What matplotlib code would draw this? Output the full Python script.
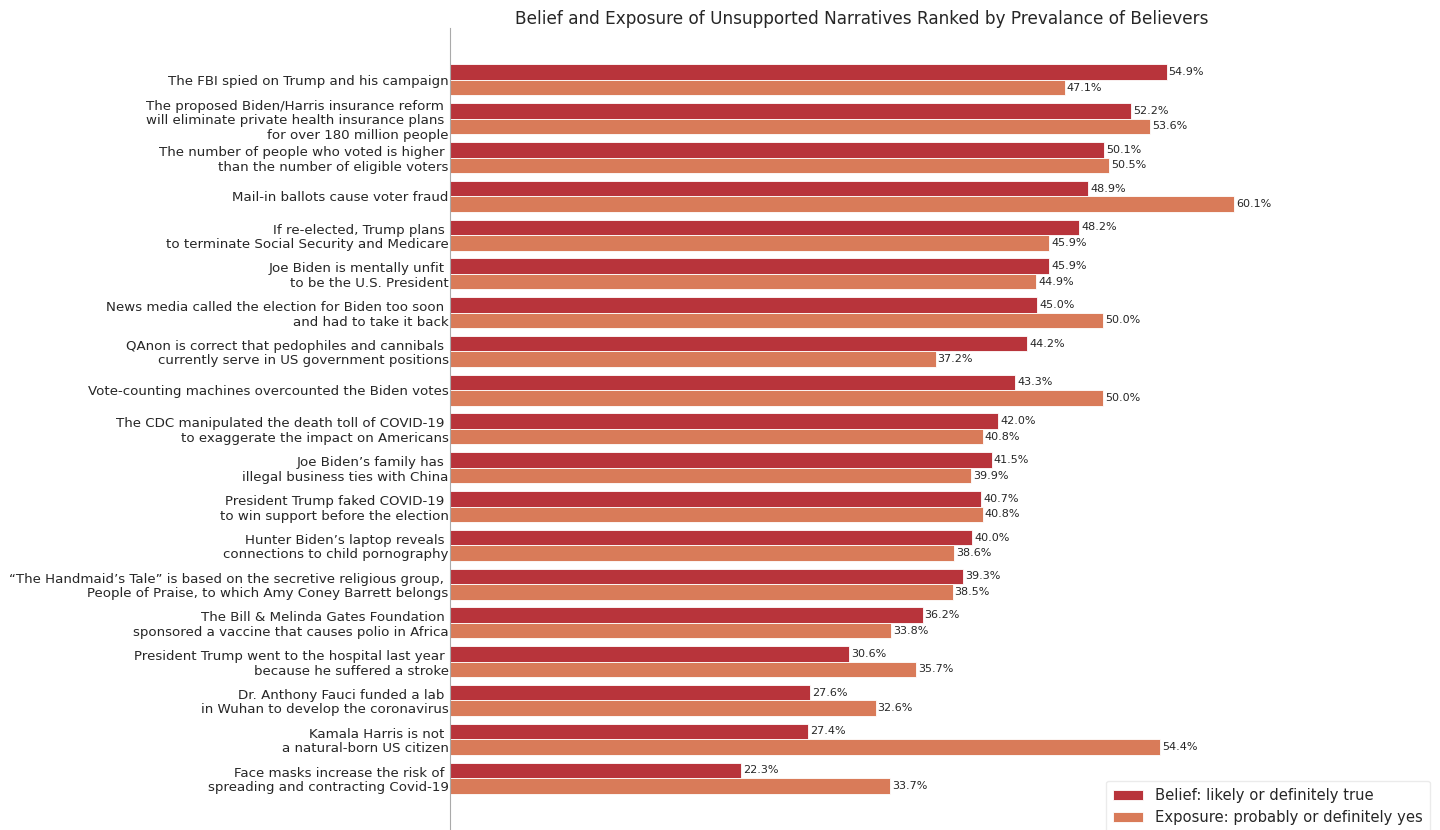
import matplotlib
matplotlib.use('Agg')
import matplotlib.pyplot as plt
import numpy as np

# Narrativas, da mais acreditada para a menos
narratives = [
    'The FBI spied on Trump and his campaign',
    'The proposed Biden/Harris insurance reform \nwill eliminate private health insurance plans \nfor over 180 million people',
    'The number of people who voted is higher \nthan the number of eligible voters',
    'Mail-in ballots cause voter fraud',
    'If re-elected, Trump plans \nto terminate Social Security and Medicare',
    'Joe Biden is mentally unfit \nto be the U.S. President',
    'News media called the election for Biden too soon \nand had to take it back',
    'QAnon is correct that pedophiles and cannibals \ncurrently serve in US government positions',
    'Vote-counting machines overcounted the Biden votes',
    'The CDC manipulated the death toll of COVID-19 \nto exaggerate the impact on Americans',
    'Joe Biden\u2019s family has \nillegal business ties with China',
    'President Trump faked COVID-19 \nto win support before the election',
    'Hunter Biden\u2019s laptop reveals \nconnections to child pornography',
    '\u201cThe Handmaid\u2019s Tale\u201d is based on the secretive religious group, \nPeople of Praise, to which Amy Coney Barrett belongs',
    'The Bill & Melinda Gates Foundation \nsponsored a vaccine that causes polio in Africa',
    'President Trump went to the hospital last year \nbecause he suffered a stroke',
    'Dr. Anthony Fauci funded a lab \nin Wuhan to develop the coronavirus',
    'Kamala Harris is not \na natural-born US citizen',
    'Face masks increase the risk of \nspreading and contracting Covid-19',
]

belief = [54.9, 52.2, 50.1, 48.9, 48.2, 45.9, 45.0, 44.2, 43.3, 42.0,
          41.5, 40.7, 40.0, 39.3, 36.2, 30.6, 27.6, 27.4, 22.3]
exposure = [47.1, 53.6, 50.5, 60.1, 45.9, 44.9, 50.0, 37.2, 50.0, 40.8,
            39.9, 40.8, 38.6, 38.5, 33.8, 35.7, 32.6, 54.4, 33.7]

belief_label = 'Belief: likely or definitely true'
exposure_label = 'Exposure: probably or definitely yes'

text_color = '#262626'

fig = plt.figure(figsize=(14.4, 8.3), dpi=100)
ax = fig.add_axes([0.3125, 0.0, 0.572, 0.9663])

y = np.arange(len(narratives))
h = 0.4

b1 = ax.barh(y - h / 2, belief, height=h, color='#b8343b', edgecolor='white',
             linewidth=0.6, label=belief_label)
b2 = ax.barh(y + h / 2, exposure, height=h, color='#d97b59', edgecolor='white',
             linewidth=0.6, label=exposure_label)

# Rótulos de valor ao lado das barras
for bars in (b1, b2):
    ax.bar_label(bars, labels=[f'{v:.1f}%' for v in bars.datavalues],
                 padding=1.5, fontsize=8, color=text_color)

ax.set_yticks(y)
ax.set_yticklabels(narratives, fontsize=9.6, color=text_color, linespacing=1.15)
ax.invert_yaxis()
ax.tick_params(axis='y', length=0, pad=1)
ax.set_xticks([])

for side in ('top', 'right', 'bottom'):
    ax.spines[side].set_visible(False)
ax.spines['left'].set_color('#aaaaaa')
ax.spines['left'].set_linewidth(0.8)

ax.set_title('Belief and Exposure of Unsupported Narratives Ranked by Prevalance of Believers',
             fontsize=12.2, color=text_color, pad=2)

leg = fig.legend(handles=[b1, b2], loc='lower right', bbox_to_anchor=(0.998, -0.012),
                 fontsize=10.6, frameon=True, edgecolor='#e6e6e6', fancybox=True,
                 handlelength=2.0, borderpad=0.5)
for t in leg.get_texts():
    t.set_color(text_color)

fig.savefig('out.png', dpi=100)
